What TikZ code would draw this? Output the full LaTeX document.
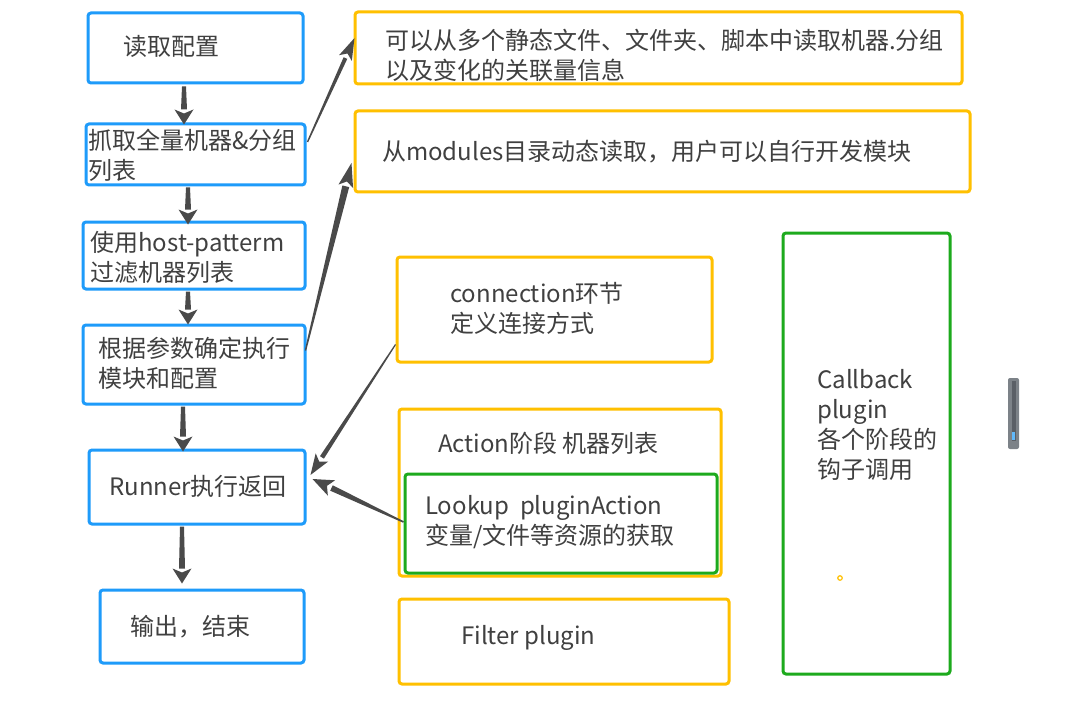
\documentclass[tikz,border=0pt]{standalone}
\usepackage{fontspec}
\setmainfont{Noto Sans CJK SC}
\usetikzlibrary{arrows.meta,calc}
\definecolor{bblue}{HTML}{1E9BFA}
\definecolor{borange}{HTML}{FFC000}
\definecolor{bgreen}{HTML}{1DAA1D}
\definecolor{tgray}{HTML}{404040}
\definecolor{agray}{HTML}{4A4A4A}
\definecolor{sgray}{HTML}{7C8288}
\definecolor{sdark}{HTML}{5A5F66}
% tapered arrow: start, tip, half width at start, half width at head base, head length, head half width, inset
\newcommand\mytaper[7]{%
  \coordinate (ts) at (#1);
  \coordinate (tt) at (#2);
  \coordinate (th) at ($(tt)!#5!(ts)$);
  \fill[agray] ($(ts)!#3!90:(tt)$) -- ($(th)!#4!-90:(ts)$) -- ($(th)!#4!90:(ts)$) -- ($(ts)!#3!-90:(tt)$) -- cycle;
  \fill[agray] ($(th)!#6!-90:(ts)$) -- (tt) -- ($(th)!#6!90:(ts)$) -- ($(th)!#7!(tt)$) -- cycle;
}
\begin{document}
\begin{tikzpicture}[x=1pt,y=-1pt,
  font=\fontsize{24pt}{30pt}\selectfont,
  box/.style={draw, line width=3pt, rounded corners=3pt, inner sep=0pt, fill=white},
  bluebox/.style={box, draw=bblue},
  orbox/.style={box, draw=borange},
  grbox/.style={box, draw=bgreen},
  lbl/.style={anchor=west, align=left, inner sep=0pt, text=tgray}
]
\useasboundingbox (0,0) rectangle (1085,706);
\fill[white] (0,0) rectangle (1085,706);

% left column
\node[bluebox, minimum width=215pt, minimum height=70pt] (b1) at (195.5,48) {};
\node[bluebox, minimum width=219pt, minimum height=61pt] (b2) at (195.5,154.5) {};
\node[bluebox, minimum width=222pt, minimum height=67pt] (b3) at (194,255.5) {};
\node[bluebox, minimum width=222pt, minimum height=79pt] (b4) at (194,364.5) {};
\node[bluebox, minimum width=216pt, minimum height=74pt] (b5) at (197,487) {};
\node[bluebox, minimum width=204pt, minimum height=73pt] (b6) at (202,626.5) {};

\node[lbl] (t1) at (123,46) {读取配置};
\node[lbl] (t2) at (88,155) {抓取全量机器\&分组\\列表};
\node[lbl] (t3) at (90,257) {使用host-patterm\\过滤机器列表};
\node[lbl] (t4) at (98,363) {根据参数确定执行\\模块和配置};
\node[lbl] (t5) at (109,486) {Runner执行返回};
\node[lbl] (t6) at (130,627) {输出，结束};

% right boxes
\node[orbox, minimum width=607pt, minimum height=72pt] (A) at (658.5,48) {};
\node[orbox, minimum width=615pt, minimum height=81pt] (B) at (662.5,151.5) {};
\node[orbox, minimum width=315pt, minimum height=105pt] (C) at (554.5,309.5) {};
\node[orbox, minimum width=322pt, minimum height=167pt] (D) at (560,492.5) {};
\node[grbox, minimum width=312pt, minimum height=99pt] (E) at (561,523.5) {};
\node[orbox, minimum width=330pt, minimum height=85pt] (F) at (564,641.5) {};
\node[grbox, minimum width=167pt, minimum height=441pt] (G) at (866.5,453.5) {};

\node[lbl] (tA) at (385,55) {可以从多个静态文件、文件夹、脚本中读取机器.分组\\以及变化的关联量信息};
\node[lbl] (tB) at (382,152) {从modules目录动态读取，用户可以自行开发模块};
\node[lbl] (tC) at (450,308) {connection环节\\定义连接方式};
\node[lbl] (tD) at (438,443) {Action阶段 机器列表};
\node[lbl] (tE) at (425,522) {Lookup\ \ pluginAction\\变量/文件等资源的获取};
\node[lbl] (tF) at (461,638) {Filter plugin};
\node[lbl] (tG) at (817,424.5) {Callback\\plugin\\各个阶段的\\钩子调用};

% small marks
\node[circle, draw=borange, line width=1.2pt, fill=white, inner sep=0pt, minimum size=4.5pt] (dot) at (840,578) {};
\node[draw=none, fill=sgray, rounded corners=2pt, minimum width=11pt, minimum height=71pt, inner sep=0pt] (scroll) at (1013.5,413.5) {};
\node[fill=sdark, minimum width=4pt, minimum height=60pt, inner sep=0pt] (scrollin) at (1013.5,411) {};
\node[fill=bblue!70, minimum width=3pt, minimum height=8pt, inner sep=0pt] (scrollbl) at (1013.5,436) {};

% vertical arrows
\mytaper{$(b1.south)+(-11.5,2)$}{$(b2.north)+(-11.5,2)$}{2pt}{3pt}{15pt}{9.5pt}{4pt}
\mytaper{$(b2.south)+(-7.5,1)$}{$(b3.north)+(-6,4)$}{2pt}{3pt}{15pt}{9.5pt}{4pt}
\mytaper{$(b3.south)+(-6,1)$}{$(b4.north)+(-6,1)$}{2pt}{3pt}{15pt}{9.5pt}{4pt}
\mytaper{$(b4.south)+(-11,1)$}{$(b5.north)+(-14,3)$}{2pt}{3pt}{15pt}{9.5pt}{4pt}
\mytaper{$(b5.south)+(-15,1)$}{$(b6.north)+(-20,-5)$}{2pt}{3pt}{15pt}{9.5pt}{4pt}

% diagonal arrows
\mytaper{$(b2.east)+(1,-12.5)$}{$(A.west)+(1,-10)$}{0.7pt}{2pt}{22pt}{7pt}{5pt}
\mytaper{$(b4.east)+(-1,-14)$}{$(B.west)+(-2,11.5)$}{0.7pt}{3.5pt}{24pt}{7.5pt}{5pt}
\mytaper{$(C.south west)+(0,-19)$}{$(b5.east)+(4,-12)$}{0.6pt}{2.3pt}{21pt}{7.5pt}{5pt}
\mytaper{$(E.west)+(0,-1.5)$}{$(b5.east)+(6,-8)$}{0.8pt}{3pt}{21pt}{8.5pt}{5pt}
\end{tikzpicture}
\end{document}
